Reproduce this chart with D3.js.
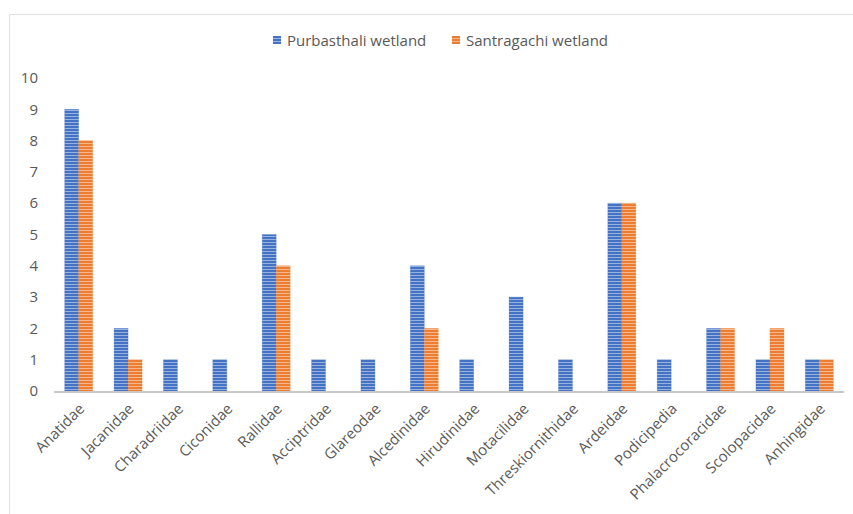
<!DOCTYPE html>
<html>
<head>
<meta charset="utf-8">
<script src="https://cdnjs.cloudflare.com/ajax/libs/d3/7.8.5/d3.min.js"></script>
<style>
  body { margin: 0; background: #fff; }
  svg { display: block; font-family: "Open Sans", "Noto Sans", sans-serif; }
</style>
</head>
<body>
<div id="chart"></div>
<script>
// families on the x axis
const families = ['Anatidae', 'Jacanidae', 'Charadriidae', 'Ciconidae', 'Rallidae', 'Acciptridae',
  'Glareodae', 'Alcedinidae', 'Hirudinidae', 'Motacilidae', 'Threskiornithidae', 'Ardeidae',
  'Podicipedia', 'Phalacrocoracidae', 'Scolopacidae', 'Anhingidae'];
const purbasthali = [9, 2, 1, 1, 5, 1, 1, 4, 1, 3, 1, 6, 1, 2, 1, 1];
const santragachi = [8, 1, 0, 0, 4, 0, 0, 2, 0, 0, 0, 6, 0, 2, 2, 1];
const seriesNames = ['Purbasthali wetland', 'Santragachi wetland'];
const yTicks = [0, 1, 2, 3, 4, 5, 6, 7, 8, 9, 10];

const width = 853, height = 514;
const margin = { top: 78, right: 9, bottom: 123, left: 54 };

const svg = d3.select('#chart').append('svg')
  .attr('width', width)
  .attr('height', height);

// striped fills like the excel pattern
const defs = svg.append('defs');
const colors = ['#4472C4', '#ED7D31'];
colors.forEach((c, i) => {
  const p = defs.append('pattern')
    .attr('id', 'stripe' + i)
    .attr('patternUnits', 'userSpaceOnUse')
    .attr('width', 6).attr('height', 3);
  p.append('rect').attr('width', 6).attr('height', 3).attr('fill', c);
  p.append('rect').attr('y', 2).attr('width', 6).attr('height', 1)
    .attr('fill', '#fff').attr('opacity', 0.45);
});

// chart frame (only top/left visible in the crop)
svg.append('path')
  .attr('d', `M9.5,${height}V14.5H${width}`)
  .attr('fill', 'none')
  .attr('stroke', '#e0e0e0');

const x = d3.scaleBand()
  .domain(families)
  .range([margin.left, width - margin.right]);

const y = d3.scaleLinear()
  .domain([0, 10])
  .range([height - margin.bottom, margin.top]);

const x1 = d3.scaleBand()
  .domain([0, 1])
  .range([0, 28]);

// y axis labels
svg.append('g')
  .selectAll('text')
  .data(yTicks)
  .enter().append('text')
  .attr('x', 38)
  .attr('y', d => y(d))
  .attr('dy', '0.35em')
  .attr('text-anchor', 'end')
  .attr('font-size', 15)
  .attr('fill', '#595959')
  .text(d => d);

// bars
const table = families.map((f, i) => ({ f, vals: [purbasthali[i], santragachi[i]] }));
const groups = svg.append('g').selectAll('g')
  .data(table)
  .enter().append('g')
  .attr('transform', d => `translate(${x(d.f) + x.bandwidth() / 2 - 14},0)`);

groups.selectAll('rect')
  .data(d => d.vals.map((v, s) => ({ v, s })).filter(e => e.v > 0))
  .enter().append('rect')
  .attr('x', d => x1(d.s))
  .attr('y', d => y(d.v))
  .attr('width', x1.bandwidth())
  .attr('height', d => y(0) - y(d.v))
  .attr('fill', d => `url(#stripe${d.s})`)
  .attr('stroke', d => colors[d.s])
  .attr('stroke-opacity', 0.35)
  .attr('stroke-width', 0.8);

// x axis line
svg.append('line')
  .attr('x1', margin.left).attr('x2', width - margin.right)
  .attr('y1', y(0) + 1).attr('y2', y(0) + 1)
  .attr('stroke', '#c8c8c8')
  .attr('stroke-width', 2);

// rotated category labels
svg.append('g').selectAll('text')
  .data(families)
  .enter().append('text')
  .attr('transform', d => `translate(${x(d) + x.bandwidth() / 2 + 3},${y(0) + 15}) rotate(-45)`)
  .attr('text-anchor', 'end')
  .attr('dy', '0.35em')
  .attr('font-size', 15)
  .attr('fill', '#595959')
  .text(d => d);

// legend
const legend = svg.append('g');
const legendX = [273, 452];
seriesNames.forEach((name, i) => {
  legend.append('rect')
    .attr('x', legendX[i]).attr('y', 36)
    .attr('width', 8).attr('height', 8)
    .attr('fill', `url(#stripe${i})`);
  legend.append('text')
    .attr('x', legendX[i] + 14).attr('y', 41)
    .attr('dy', '0.35em')
    .attr('font-size', 15)
    .attr('fill', '#595959')
    .text(name);
});
</script>
</body>
</html>
